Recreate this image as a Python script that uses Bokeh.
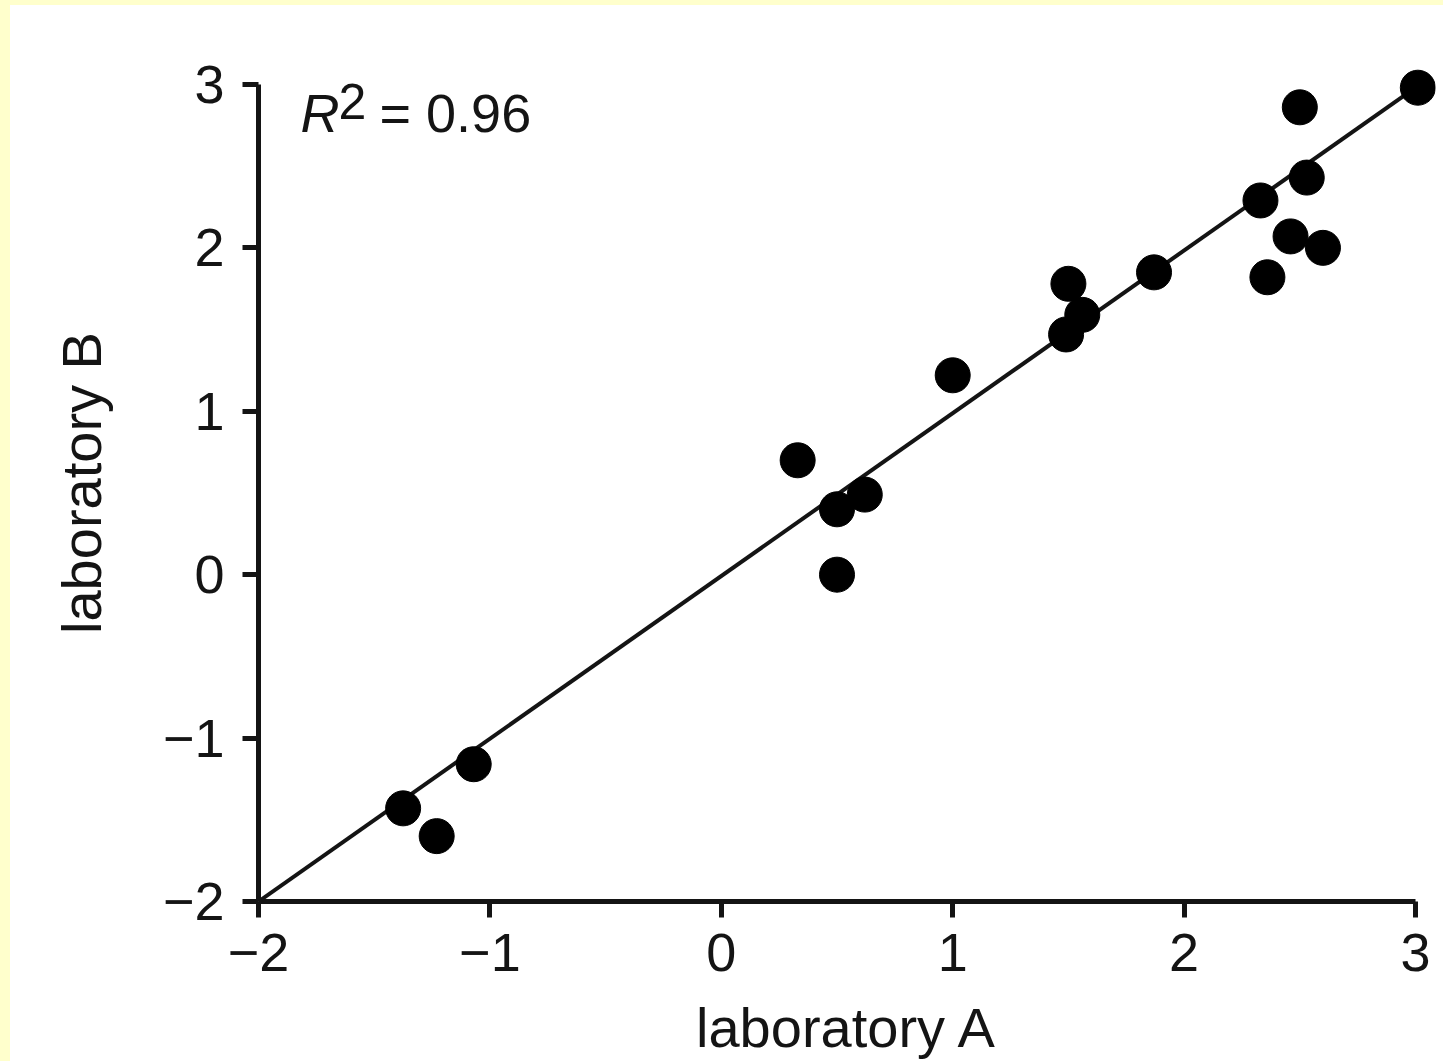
from bokeh.plotting import figure
from bokeh.models import FixedTicker, Label, Range1d, Spacer
from bokeh.layouts import row, column
from bokeh.embed import file_html
from bokeh.resources import INLINE

# ---- data ----
lab_a = [3.01, 2.50, 2.53, 2.33, 2.46, 2.60, 2.36, 1.87, 1.50, 1.56, 1.49,
         1.00, 0.33, 0.50, 0.62, 0.50, -1.07, -1.375, -1.23]
lab_b = [2.98, 2.86, 2.43, 2.29, 2.07, 2.00, 1.82, 1.85, 1.78, 1.59, 1.47,
         1.22, 0.70, 0.40, 0.49, 0.00, -1.16, -1.43, -1.60]
fit_x = [-2.0, 3.0]
fit_y = [-2.0, 2.98]
x_ticks = [-2, -1, 0, 1, 2, 3]
x_tick_labels = ["\u22122", "\u22121", "0", "1", "2", "3"]
y_ticks = [-2, -1, 0, 1, 2, 3]
y_tick_labels = ["\u22122", "\u22121", "0", "1", "2", "3"]
r2_value = "0.96"

FONT = "Liberation Sans"
INK = "#141414"
PAGE = "#FFFFCC"

p = figure(width=1433, height=1056, output_backend="svg", toolbar_location=None,
           x_range=Range1d(-2, 3.0864), y_range=Range1d(-2, 3.122),
           min_border_left=248, min_border_right=8, min_border_top=59,
           min_border_bottom=159)
p.xgrid.visible = False
p.ygrid.visible = False
p.outline_line_color = None
p.background_fill_color = "white"
p.border_fill_color = "white"

for ax, ticks, labels in ((p.xaxis[0], x_ticks, x_tick_labels),
                          (p.yaxis[0], y_ticks, y_tick_labels)):
    ax.bounds = (-2, 3)
    ax.ticker = FixedTicker(ticks=ticks)
    ax.major_label_overrides = {t: l for t, l in zip(ticks, labels)}
    ax.axis_line_width = 5
    ax.axis_line_color = INK
    ax.major_tick_line_width = 5
    ax.major_tick_line_color = INK
    ax.major_tick_in = 0
    ax.major_tick_out = 16
    ax.minor_tick_line_color = None
    ax.major_label_text_font = FONT
    ax.major_label_text_font_size = "54px"
    ax.major_label_text_color = INK
    ax.axis_label_text_font = FONT
    ax.axis_label_text_font_size = "56px"
    ax.axis_label_text_font_style = "normal"
    ax.axis_label_text_color = INK

p.xaxis.axis_label = "laboratory A"
p.yaxis.axis_label = "laboratory B"
p.xaxis.major_label_standoff = 16
p.xaxis.axis_label_standoff = 22
p.yaxis.major_label_standoff = 18
p.yaxis.axis_label_standoff = 47

p.line(fit_x, fit_y, line_width=4, line_color=INK)
p.scatter(lab_a, lab_b, size=35, fill_color="black", line_color="black")

p.add_layout(Label(x=-1.8185, y=2.824, text="R", text_font=FONT,
                   text_font_style="italic", text_font_size="54px",
                   text_color=INK, text_baseline="alphabetic"))
p.add_layout(Label(x=-1.654, y=2.897, text="2", text_font=FONT,
                   text_font_size="50px", text_color=INK,
                   text_baseline="alphabetic"))
p.add_layout(Label(x=-1.477, y=2.824, text="= " + r2_value, text_font=FONT,
                   text_font_size="54px", text_color=INK,
                   text_baseline="alphabetic"))

top_strip = Spacer(width=1443, height=5, styles={"background-color": PAGE})
left_strip = Spacer(width=10, height=1056, styles={"background-color": PAGE})
page = column(top_strip, row(left_strip, p, spacing=0), spacing=0,
              styles={"background-color": "white"})

open("out.html", "w").write(file_html(page, INLINE))
